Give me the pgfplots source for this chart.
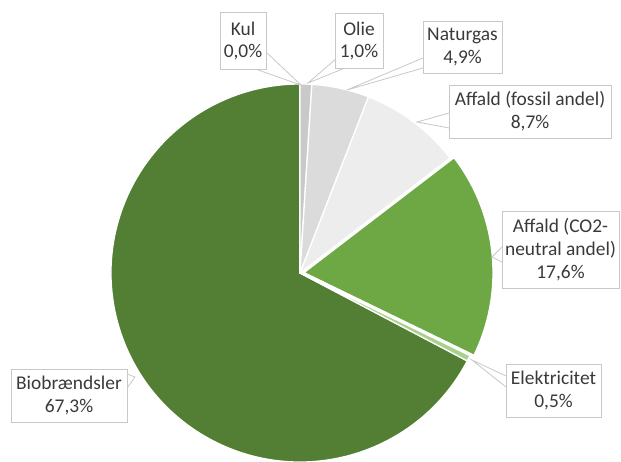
\documentclass[border=0pt]{standalone}
\usepackage{pgfplots}
\pgfplotsset{compat=1.18}
\usepackage{fontspec}
\setmainfont{Carlito}

\definecolor{bio}{HTML}{527F33}
\definecolor{affco}{HTML}{6DA844}
\definecolor{elek}{HTML}{A9D18E}
\definecolor{kul}{HTML}{B4B4B4}
\definecolor{olie}{HTML}{C9C9C9}
\definecolor{natgas}{HTML}{DBDBDB}
\definecolor{afffos}{HTML}{EDEDED}
\definecolor{boxgrey}{HTML}{C8C8C8}
\definecolor{txt}{HTML}{3A3A3A}

\tikzset{
  lbl/.style={draw=boxgrey, line width=0.8bp, fill=white, text=txt,
    align=center, inner sep=2bp, font=\fontsize{19.5}{23}\selectfont},
  lead/.style={draw=boxgrey, line width=0.8bp},
}

% start (cumulative %), share (%), colour, shift x, shift y
\newcommand\pieslice[5]{%
  \fill[#3, draw=white, line width=1.3bp, line join=round]
    (axis cs:{300+#4},{189+#5}) -- ++({90-3.6*#1}:189bp)
    arc[start angle={90-3.6*#1}, end angle={90-3.6*(#1+#2)}, radius=189bp] -- cycle;}

\begin{document}
\begin{tikzpicture}
\useasboundingbox (0,0) rectangle (621bp,462bp);
\begin{axis}[
    scale only axis,
    width=621bp, height=462bp,
    xmin=0, xmax=621, ymin=0, ymax=462,
    hide axis, clip=false,
]
% shares in %: Kul 0.0, Olie 1.0, Naturgas 4.9, Affald fossil 8.7,
% Affald CO2-neutral 17.6, Elektricitet 0.5, Biobraendsler 67.3
\pieslice{32.7}{67.3}{bio}{0}{0}
\pieslice{0.0}{0.0}{kul}{0}{0}
\pieslice{0.0}{1.0}{olie}{0}{0}
\pieslice{1.0}{4.9}{natgas}{0}{0}
\pieslice{5.9}{8.7}{afffos}{0}{0}
\pieslice{14.6}{17.6}{affco}{4}{0.4}
\pieslice{32.2}{0.5}{elek}{0}{0}

% leader lines
\draw[lead] (axis cs:266,410) -- (axis cs:301,377) -- (axis cs:258,392);
\draw[lead] (axis cs:337,404) -- (axis cs:308,379) -- (axis cs:345,394);
\draw[lead] (axis cs:423,404) -- (axis cs:347,372) -- (axis cs:423,394);
\draw[lead] (axis cs:449,349) -- (axis cs:417,340) -- (axis cs:449,334);
\draw[lead] (axis cs:502,215) -- (axis cs:492,205) -- (axis cs:502,200);
\draw[lead] (axis cs:506,86) -- (axis cs:472,102) -- (axis cs:506,75);
\draw[lead] (axis cs:127,88) -- (axis cs:135,85) -- (axis cs:127,74);

% labels
\node[lbl, minimum width=46bp, minimum height=57bp] at (axis cs:243,421) {Kul\\0,0\%};
\node[lbl, minimum width=48bp, minimum height=55bp] at (axis cs:359,421) {Olie\\1,0\%};
\node[lbl, minimum width=79bp, minimum height=52bp] at (axis cs:462.5,415) {Naturgas\\4,9\%};
\node[lbl, minimum width=162bp, minimum height=53bp] at (axis cs:530,350.5) {Affald (fossil andel)\\8,7\%};
\node[lbl, minimum width=117bp, minimum height=77bp] at (axis cs:560.5,212) {Affald (CO2-\\neutral andel)\\17,6\%};
\node[lbl, minimum width=95bp, minimum height=53bp] at (axis cs:553.5,71.5) {Elektricitet\\0,5\%};
\node[lbl, minimum width=116bp, minimum height=53bp] at (axis cs:69,66.5) {Biobrændsler\\67,3\%};
\end{axis}
\end{tikzpicture}
\end{document}
